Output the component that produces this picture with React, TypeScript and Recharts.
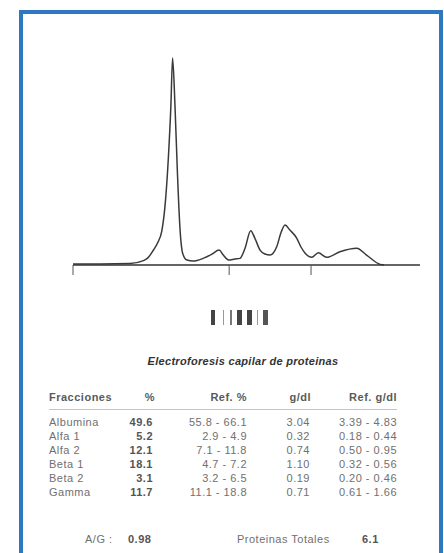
import React from 'react';
import { LineChart, Line, XAxis, YAxis } from 'recharts';

// Electropherogram trace: migration position (0-100) vs relative intensity (0-100)
const migration = [0, 7.8, 16.4, 20.3, 21.5, 23.1, 24.5, 25.6, 26.5, 27.5, 28.2, 28.7, 29.4, 30.1, 30.8, 31.6, 32.8, 34.7, 37.5, 40.1, 42.1, 43.3, 44.8, 46.7, 48.1, 49.6, 51.2, 52.4, 53.9, 55.3, 56.8, 58.7, 60.0, 61.1, 62.5, 64.5, 65.7, 66.9, 68.8, 70.7, 73.1, 76.9, 81.8, 84.6, 88.5, 89.6];
const intensity = [0.5, 0.5, 0.7, 2.1, 3.3, 7.0, 11.1, 16.5, 28.2, 52.3, 76.5, 100, 76.5, 44.3, 18.5, 5.7, 2.4, 1.9, 3.2, 5.3, 7.2, 4.8, 2.4, 2.9, 3.2, 8.2, 16.6, 13.0, 7.2, 5.3, 4.8, 8.8, 15.9, 19.3, 16.9, 12.9, 8.7, 5.7, 3.7, 5.9, 3.7, 6.4, 8.1, 4.8, 0.3, 0];
const axisTicks = [0, 45, 68.6];

const fractions = ['Albumina', 'Alfa 1', 'Alfa 2', 'Beta 1', 'Beta 2', 'Gamma'];
const percents = ['49.6', '5.2', '12.1', '18.1', '3.1', '11.7'];
const refPercents = ['55.8 - 66.1', '2.9 - 4.9', '7.1 - 11.8', '4.7 - 7.2', '3.2 - 6.5', '11.1 - 18.8'];
const gdl = ['3.04', '0.32', '0.74', '1.10', '0.19', '0.71'];
const refGdl = ['3.39 - 4.83', '0.18 - 0.44', '0.50 - 0.95', '0.32 - 0.56', '0.20 - 0.46', '0.61 - 1.66'];
const headers = ['Fracciones', '%', 'Ref. %', 'g/dl', 'Ref. g/dl'];

const title = 'Electroforesis capilar de proteinas';
const agLabel = 'A/G :';
const agValue = '0.98';
const totalLabel = 'Proteinas Totales';
const totalValue = '6.1';

const barcode: Array<[number, number, string]> = [
  [211, 4, '#444'],
  [222.7, 1.5, '#999'],
  [230, 2.3, '#777'],
  [237.3, 4.4, '#444'],
  [246.7, 5, '#444'],
  [256.7, 1.6, '#999'],
  [263.3, 5, '#555'],
];

const data = migration.map((x, i) => ({ x, y: intensity[i] }));

const FONT = '"Liberation Sans", Arial, Helvetica, sans-serif';

const txt = (
  content: string,
  pos: { left?: number; right?: number; cy: number },
  style: React.CSSProperties = {}
) => (
  <div
    style={{
      position: 'absolute',
      top: pos.cy - 7,
      left: pos.left,
      right: pos.right !== undefined ? 444 - pos.right : undefined,
      lineHeight: '14px',
      height: 14,
      fontSize: 11,
      letterSpacing: 0.5,
      whiteSpace: 'nowrap',
      color: '#707070',
      fontFamily: FONT,
      ...style,
    }}
  >
    {content}
  </div>
);

const rowY = [422, 436, 450, 464, 478, 492];

export default function App() {
  return (
    <div
      style={{
        position: 'fixed',
        left: 0,
        top: 0,
        width: 444,
        height: 553,
        background: '#fff',
        overflow: 'hidden',
        fontFamily: FONT,
      }}
    >
      <div
        style={{
          position: 'absolute',
          left: 19,
          top: 10,
          width: 424,
          height: 600,
          boxSizing: 'border-box',
          border: '4px solid #2e78c2',
        }}
      />
      <div style={{ position: 'absolute', left: 0, top: 0 }}>
        <LineChart
          width={444}
          height={300}
          data={data}
          margin={{ top: 58, right: 24, bottom: 25, left: 73 }}
        >
          <XAxis
            dataKey="x"
            type="number"
            domain={[0, 100]}
            ticks={axisTicks}
            height={10}
            tickSize={10}
            axisLine={{ stroke: '#333', strokeWidth: 1.3 }}
            tickLine={{ stroke: '#555', strokeWidth: 1 }}
            tick={() => <g />}
          />
          <YAxis hide domain={[0, 100]} />
          <Line
            dataKey="y"
            type="monotone"
            stroke="#3a3a3a"
            strokeWidth={1.5}
            dot={false}
            isAnimationActive={false}
          />
        </LineChart>
      </div>

      {barcode.map(([x, w, c], i) => (
        <div
          key={i}
          style={{ position: 'absolute', left: x, top: 310, width: w, height: 15, background: c }}
        />
      ))}

      <div
        style={{
          position: 'absolute',
          left: 0,
          width: 486,
          top: 354,
          textAlign: 'center',
          fontSize: 11,
          lineHeight: '14px',
          fontStyle: 'italic',
          fontWeight: 'bold',
          letterSpacing: 0.3,
          color: '#333',
          fontFamily: FONT,
        }}
      >
        {title}
      </div>

      {txt(headers[0], { left: 49, cy: 397 }, { fontWeight: 'bold', color: '#5a5a5a' })}
      {txt(headers[1], { right: 155, cy: 397 }, { fontWeight: 'bold', color: '#5a5a5a' })}
      {txt(headers[2], { right: 247, cy: 397 }, { fontWeight: 'bold', color: '#5a5a5a' })}
      {txt(headers[3], { right: 311, cy: 397 }, { fontWeight: 'bold', color: '#5a5a5a' })}
      {txt(headers[4], { right: 397, cy: 397 }, { fontWeight: 'bold', color: '#5a5a5a' })}

      <div
        style={{
          position: 'absolute',
          left: 49,
          top: 409,
          width: 348,
          height: 1,
          background: '#c4c4c4',
        }}
      />

      {fractions.map((f, i) => (
        <React.Fragment key={f}>
          {txt(f, { left: 49, cy: rowY[i] })}
          {txt(percents[i], { right: 153, cy: rowY[i] }, { fontWeight: 'bold', color: '#555' })}
          {txt(refPercents[i], { right: 247, cy: rowY[i] })}
          {txt(gdl[i], { right: 310, cy: rowY[i] })}
          {txt(refGdl[i], { right: 397, cy: rowY[i] })}
        </React.Fragment>
      ))}

      {txt(agLabel, { left: 85, cy: 539 })}
      {txt(agValue, { left: 128, cy: 539 }, { fontWeight: 'bold', color: '#555' })}
      {txt(totalLabel, { left: 237, cy: 539 })}
      {txt(totalValue, { left: 362, cy: 539 }, { fontWeight: 'bold', color: '#555' })}
    </div>
  );
}
